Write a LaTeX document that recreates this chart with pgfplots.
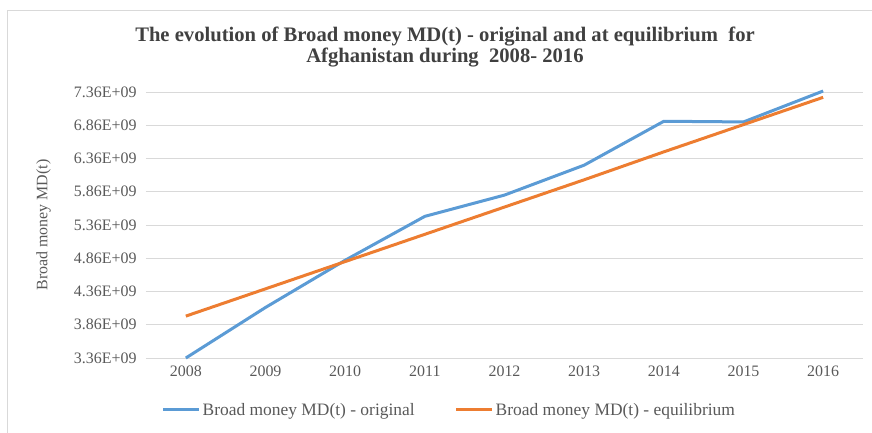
\documentclass[border=0pt]{standalone}
\usepackage{fontspec}
\setmainfont{Liberation Serif}
\usepackage{pgfplots}
\pgfplotsset{compat=1.18}
\definecolor{mdblue}{HTML}{5B9BD5}
\definecolor{mdorange}{HTML}{ED7D31}
\definecolor{gridgray}{HTML}{D9D9D9}
\definecolor{ticktext}{HTML}{595959}
\definecolor{titletext}{HTML}{404040}
\begin{document}
\begin{tikzpicture}[x=1bp,y=1bp]
\useasboundingbox (-146,-74) rectangle (726,358);
\draw[gridgray, line width=1bp] (-138,-75) -- (-138,348) -- (727,348);
\node[font=\fontsize{20.7}{21.5}\selectfont\bfseries, text=titletext, align=center] at (299,311)
  {The evolution of Broad money MD(t) - original and at equilibrium\ \ for\\Afghanistan during\ \ 2008- 2016};
\begin{axis}[
  anchor=south west,
  scale only axis, width=717bp, height=266bp,
  xmin=-0.5, xmax=8.5, ymin=3.36e9, ymax=7.36e9,
  clip=false,
  axis line style={draw=none},
  tick style={draw=none},
  xtick={0,1,2,3,4,5,6,7,8},
  xticklabels={2008,2009,2010,2011,2012,2013,2014,2015,2016},
  ytick={3.36e9,3.86e9,4.36e9,4.86e9,5.36e9,5.86e9,6.36e9,6.86e9,7.36e9},
  yticklabels={3.36E+09,3.86E+09,4.36E+09,4.86E+09,5.36E+09,5.86E+09,6.36E+09,6.86E+09,7.36E+09},
  scaled y ticks=false,
  ymajorgrids, major grid style={gridgray, line width=1bp},
  ticklabel style={font=\fontsize{16}{19}\selectfont, text=ticktext},
  yticklabel style={xshift=-6bp},
  xticklabel style={yshift=-4bp},
  ylabel={Broad money MD(t)},
  ylabel style={font=\fontsize{16}{19}\selectfont, text=ticktext, at={(axis description cs:-0.143,0.5)}, anchor=center},
  legend columns=2,
  legend style={draw=none, fill=none, font=\fontsize{17.5}{20}\selectfont, text=ticktext,
    at={(axis description cs:0.423,-0.195)}, anchor=center,
    /tikz/every even column/.append style={column sep=38bp},
    /tikz/every odd column/.append style={inner xsep=1bp}},
  legend image code/.code={\draw[#1, line width=3bp] (0,0) -- (36bp,0);},
]
\addplot[mdblue, line width=3bp] coordinates {
  (0,3.36e9) (1,4.12e9) (2,4.83e9) (3,5.49e9) (4,5.81e9) (5,6.26e9) (6,6.92e9) (7,6.91e9) (8,7.375e9)};
\addlegendentry{Broad money MD(t) - original}
\addplot[mdorange, line width=3bp] coordinates {
  (0,3.99e9) (1,4.40e9) (2,4.81e9) (3,5.22e9) (4,5.63e9) (5,6.04e9) (6,6.46e9) (7,6.87e9) (8,7.28e9)};
\addlegendentry{Broad money MD(t) - equilibrium}
\end{axis}
\end{tikzpicture}
\end{document}
